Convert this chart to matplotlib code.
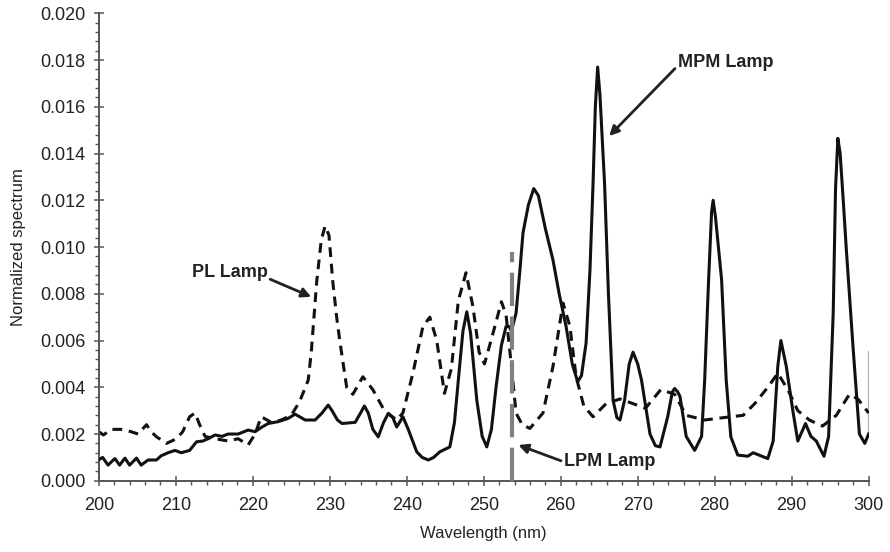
import matplotlib
matplotlib.use("Agg")
import matplotlib.pyplot as plt
from matplotlib.ticker import MultipleLocator, FormatStrFormatter

plt.rcParams['font.family'] = ['Liberation Sans', 'DejaVu Sans']

# MPM lamp (solid)
mpm_wl = [200.0, 200.5, 201.2, 201.6, 202.1, 202.7, 203.4, 204.0, 204.9, 205.5,
          206.4, 207.5, 208.1, 209.0, 209.9, 210.7, 211.8, 212.7, 213.5, 214.2,
          215.1, 216.0, 216.8, 218.1, 219.4, 220.3, 221.2, 222.0, 223.3, 224.6,
          225.5, 226.3, 226.8, 228.1, 229.0, 229.8, 230.3, 231.0, 231.6, 233.3,
          234.0, 234.5, 235.0, 235.6, 236.3, 237.0, 237.6, 238.2, 238.7, 239.5,
          240.2, 241.3, 242.0, 242.8, 243.5, 244.3, 245.6, 246.2, 246.7, 247.3,
          247.8, 248.3, 249.1, 249.8, 250.4, 251.0, 251.6, 252.3, 252.9, 253.3,
          253.6, 254.2, 254.7, 255.1, 255.8, 256.5, 257.1, 258.0, 259.0, 259.8,
          260.7, 261.5, 262.2, 262.7, 263.3, 263.8, 264.2, 264.5, 264.8, 265.1,
          265.7, 266.2, 266.8, 267.3, 267.7, 268.3, 268.9, 269.4, 270.0, 270.5,
          271.6, 272.3, 272.9, 273.9, 274.5, 274.8, 275.2, 275.5, 276.3, 277.4,
          278.3, 278.7, 279.2, 279.6, 279.8, 280.1, 280.9, 281.5, 282.1, 283.0,
          284.3, 285.0, 286.9, 287.6, 288.2, 288.6, 289.3, 290.2, 290.8, 291.8,
          292.5, 293.2, 294.2, 294.8, 295.4, 295.7, 296.0, 296.3, 296.7, 297.1,
          298.0, 298.8, 299.5, 300.0]
mpm_val = [0.0009, 0.0010, 0.00067, 0.0008, 0.00095, 0.00067, 0.00097, 0.00067, 0.00097, 0.00067,
           0.00089, 0.00089, 0.00107, 0.0012, 0.0013, 0.0012, 0.0013, 0.00167, 0.0017, 0.0018,
           0.00196, 0.0019, 0.0020, 0.0020, 0.00217, 0.0021, 0.0023, 0.00245, 0.00253, 0.00267,
           0.00285, 0.0027, 0.0026, 0.0026, 0.0029, 0.00324, 0.0030, 0.0026, 0.00245, 0.0025,
           0.0029, 0.0032, 0.0029, 0.0022, 0.00188, 0.0025, 0.00288, 0.0027, 0.0023, 0.00274,
           0.0022, 0.00124, 0.0010, 0.00089, 0.0010, 0.00124, 0.00145, 0.0025, 0.0043, 0.0064,
           0.00723, 0.0063, 0.00345, 0.0019, 0.00145, 0.0022, 0.0040, 0.0058, 0.0066, 0.0066,
           0.0064, 0.00717, 0.0090, 0.0106, 0.0118, 0.0125, 0.0122, 0.0108, 0.00944, 0.0080,
           0.0066, 0.0050, 0.00424, 0.0045, 0.0059, 0.0090, 0.0127, 0.0160, 0.0177, 0.0165,
           0.0127, 0.0080, 0.00345, 0.0027, 0.0026, 0.00345, 0.0050, 0.0055, 0.0050, 0.0043,
           0.0020, 0.0015, 0.00145, 0.00274, 0.0038, 0.00395, 0.0038, 0.0036, 0.0019, 0.0013,
           0.0019, 0.0043, 0.0085, 0.0115, 0.0120, 0.0113, 0.0086, 0.0043, 0.00188, 0.0011,
           0.00105, 0.0012, 0.00095, 0.0017, 0.0049, 0.0060, 0.0049, 0.0029, 0.0017, 0.00245,
           0.0019, 0.0017, 0.00105, 0.0019, 0.0072, 0.0125, 0.01465, 0.0140, 0.0120, 0.0099,
           0.0056, 0.0020, 0.0016, 0.0020]

# PL lamp (dashed)
pl_wl = [200.0, 200.6, 201.6, 202.9, 204.2, 205.1, 206.2, 206.8, 207.5, 208.8,
         210.1, 210.9, 211.8, 212.5, 213.1, 213.8, 215.1, 216.8, 218.1, 219.4,
         220.3, 221.1, 222.4, 223.7, 225.0, 226.1, 227.2, 227.6, 228.3, 228.9,
         229.4, 229.9, 230.4, 230.9, 231.3, 232.2, 233.0, 234.3, 235.6, 237.1,
         238.7, 239.5, 240.8, 242.1, 243.0, 243.9, 244.9, 245.8, 246.7, 247.7,
         248.6, 249.4, 250.1, 251.2, 252.3, 252.9, 253.6, 254.2, 255.0, 256.0,
         257.7, 259.0, 260.3, 261.2, 262.0, 263.0, 264.2, 265.9, 267.7, 269.4,
         271.0, 273.0, 274.8, 276.3, 278.7, 281.1, 283.7, 285.2, 286.9, 288.2,
         289.5, 290.8, 292.3, 294.0, 295.8, 297.5, 298.6, 300.0]
pl_val = [0.0021, 0.00196, 0.0022, 0.0022, 0.0021, 0.0020, 0.0024, 0.0021, 0.00188, 0.0016,
          0.0018, 0.0021, 0.00274, 0.0029, 0.0024, 0.0019, 0.0018, 0.0017, 0.0018, 0.00153,
          0.0020, 0.00274, 0.0025, 0.0026, 0.0028, 0.0034, 0.0043, 0.0055, 0.0085, 0.0103,
          0.0109, 0.0105, 0.0085, 0.0070, 0.0060, 0.0040, 0.0037, 0.00445, 0.0039, 0.0030,
          0.0026, 0.0029, 0.0046, 0.0066, 0.0070, 0.0060, 0.00374, 0.0048, 0.0077, 0.0089,
          0.00745, 0.0055, 0.0050, 0.0063, 0.00766, 0.0071, 0.0049, 0.0029, 0.0024, 0.00224,
          0.0029, 0.0049, 0.0076, 0.0066, 0.00445, 0.0032, 0.00274, 0.0033, 0.0035, 0.0033,
          0.0031, 0.0039, 0.0037, 0.0028, 0.0026, 0.0027, 0.0028, 0.0033, 0.0040, 0.0046,
          0.0039, 0.0030, 0.0026, 0.00234, 0.0028, 0.0037, 0.0035, 0.0029]

# LPM lamp (single line at 253.7 nm)
lpm_wl = [253.7, 253.7]
lpm_val = [0.0, 0.0098]

# faint grey mark at right edge
edge_wl = [300.0, 300.0]
edge_val = [0.0021, 0.0055]

fig = plt.figure(figsize=(8.9, 5.52), dpi=100)
ax = fig.add_axes([0.111, 0.129, 0.865, 0.847])

ax.plot(edge_wl, edge_val, color='#aaaaaa', lw=1.6, zorder=1)
ax.plot(pl_wl, pl_val, color='#111111', lw=2.2, dashes=(3.2, 2.2), zorder=2)
ax.plot(mpm_wl, mpm_val, color='#111111', lw=2.2, zorder=3)
ax.plot(lpm_wl, lpm_val, color='#808080', lw=3.0, dashes=(8.0, 2.5), zorder=4)

ax.set_xlim(200, 300)
ax.set_ylim(0, 0.020)
ax.xaxis.set_major_locator(MultipleLocator(10))
ax.xaxis.set_minor_locator(MultipleLocator(2))
ax.yaxis.set_major_locator(MultipleLocator(0.002))
ax.yaxis.set_minor_locator(MultipleLocator(0.0004))
ax.yaxis.set_major_formatter(FormatStrFormatter('%.3f'))

for s in ['top', 'right']:
    ax.spines[s].set_visible(False)
for s in ['left', 'bottom']:
    ax.spines[s].set_color('#555555')
    ax.spines[s].set_linewidth(1.4)

ax.tick_params(which='major', direction='inout', length=7, width=1.1, color='#555555',
               labelsize=13, labelcolor='#222222')
ax.tick_params(which='minor', direction='out', length=3, width=1.0, color='#555555')
ax.tick_params(axis='x', which='major', pad=8)
ax.tick_params(axis='y', which='major', pad=6)

ax.set_xlabel('Wavelength (nm)', fontsize=12, color='#222222', labelpad=9)
ax.set_ylabel('Normalized spectrum', fontsize=12, color='#222222', labelpad=10)

arrow = dict(arrowstyle='-|>', color='#222222', lw=2.0, mutation_scale=14,
             shrinkA=0, shrinkB=0)
ax.annotate('MPM Lamp', xy=(266.3, 0.01475), xytext=(275.2, 0.0179),
            fontsize=13, fontweight='bold', color='#222222', va='center', ha='left',
            arrowprops=dict(arrow, relpos=(0, 0.3)))
ax.annotate('PL Lamp', xy=(227.6, 0.00787), xytext=(221.9, 0.00889),
            fontsize=13, fontweight='bold', color='#222222', va='center', ha='right',
            arrowprops=dict(arrow, relpos=(1, 0.2)))
ax.annotate('LPM Lamp', xy=(254.5, 0.00153), xytext=(260.4, 0.00081),
            fontsize=13, fontweight='bold', color='#222222', va='center', ha='left',
            arrowprops=dict(arrow, relpos=(0, 0.5)))

fig.savefig('out.png', dpi=100)
